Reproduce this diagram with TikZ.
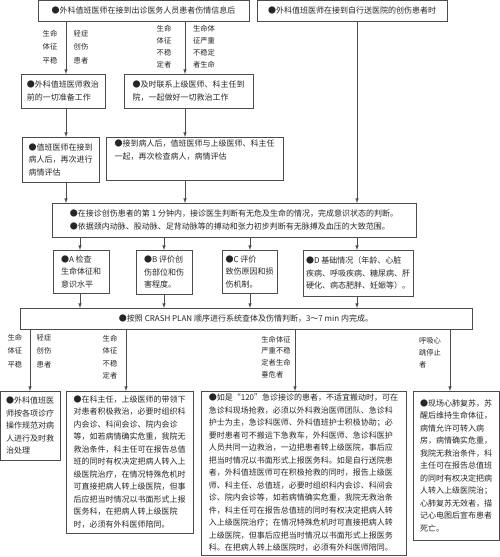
\documentclass[tikz,border=0pt]{standalone}
\usepackage{fontspec}
\setmainfont{Noto Sans CJK SC}
\begin{document}
\begin{tikzpicture}[x=1pt, y=-1pt, >=latex,
	box/.style={draw=black!70, line width=0.6pt, anchor=north west, align=left, inner sep=3pt, outer sep=0pt, text=black!85, font=\fontsize{8}{12.5}\selectfont},
	lab/.style={align=left, inner sep=0pt, text=black!85, font=\fontsize{7.3}{12.5}\selectfont},
	link/.style={draw=black!70, line width=0.6pt, ->}]
	\useasboundingbox (0,0) rectangle (500,557);
	\coordinate (colL) at (66,0);
	\coordinate (colR) at (185,0);
	\coordinate (colA) at (80,0);
	\coordinate (colB) at (164,0);
	\coordinate (colC) at (250,0);
	\coordinate (colD) at (357,0);
	\coordinate (colS) at (30,0);
	\coordinate (colU) at (126,0);
	\coordinate (colX) at (295,0);
	\coordinate (colH) at (450,0);

	\node[box, align=center, minimum width=211, minimum height=21] (top1) at (38,0) {●外科值班医师在接到出诊医务人员患者伤情信息后};
	\node[box, align=center, minimum width=190, minimum height=21] (top2) at (257,0) {●外科值班医师在接到自行送医院的创伤患者时};
	\node[box, minimum width=84, minimum height=34] (prep) at (21,74) {●外科值班医师救治\\前的一切准备工作};
	\node[box, minimum width=129, minimum height=34] (call) at (124,74) {●及时联系上级医师、科主任到\\院，一起做好一切救治工作};
	\node[box, minimum width=77, minimum height=45] (eval1) at (22,137) {●值班医师在接到\\病人后，再次进行\\病情评估};
	\node[box, minimum width=177, text depth=18pt] (eval2) at (106,137) {●接到病人后，值班医师与上级医师、科主任\\一起，再次检查病人，病情评估};
	\node[box, minimum width=364, minimum height=34] (first) at (52,203) {●在接诊创伤患者的第 1 分钟内，接诊医生判断有无危及生命的情况，完成意识状态的判断。\\●依据颈内动脉、股动脉、足背动脉等的搏动和张力初步判断有无脉搏及血压的大致范围。};
	\node[box, minimum width=56, minimum height=43] (chkA) at (53,250) {●A 检查\\生命体征和\\意识水平};
	\node[box, minimum width=56, minimum height=44] (chkB) at (136,250) {●B 评价创\\伤部位和伤\\害程度。};
	\node[box, minimum width=55, minimum height=43] (chkC) at (222,250) {●C 评价\\致伤原因和损\\伤机制。};
	\node[box, minimum width=110, minimum height=46] (chkD) at (303,250) {●D 基础情况（年龄、心脏\\疾病、呼吸疾病、糖尿病、肝\\硬化、病态肥胖、妊娠等）。};
	\node[box, align=center, minimum width=452, minimum height=21] (crash) at (20,308) {●按照 CRASH PLAN 顺序进行系统查体及伤情判断，3～7 min 内完成。};
	\node[box, minimum width=60, minimum height=69] (stable) at (0,391) {●外科值班医\\师按各项诊疗\\操作规范对病\\人进行及时救\\治处理};
	\node[box, minimum width=127, minimum height=142] (unstable) at (66,391) {●在科主任，上级医师的带领下\\对患者积极救治，必要时组织科\\内会诊、科间会诊、院内会诊\\等，如若病情确实危重，我院无\\救治条件，科主任可在报告总值\\班的同时有权决定把病人转入上\\级医院治疗，在情况特殊危机时\\可直接把病人转上级医院，但事\\后应把当时情况以书面形式上报\\医务科，在把病人转上级医院\\时，必须有外科医师陪同。};
	\node[box, line width=1pt, minimum width=205, minimum height=164] (critical) at (201,391) {●如是“120”急诊接诊的患者，不适宜搬动时，可在\\急诊科现场抢救，必须以外科救治医师团队、急诊科\\护士为主，急诊科医师、外科值班护士积极协助；必\\要时患者可不搬运下急救车，外科医师、急诊科医护\\人员共同一边救治，一边把患者转上级医院，事后应\\把当时情况以书面形式上报医务科。如是自行送院患\\者，外科值班医师可在积极抢救的同时，报告上级医\\师、科主任、总值班，必要时组织科内会诊、科间会\\诊、院内会诊等，如若病情确实危重，我院无救治条\\件，科主任可在报告总值班的同时有权决定把病人转\\入上级医院治疗；在情况特殊危机时可直接把病人转\\上级医院，但事后应把当时情况以书面形式上报医务\\科。在把病人转上级医院时，必须有外科医师陪同。};
	\node[box, minimum width=86, minimum height=149] (arrest) at (413,391) {●现场心肺复苏，苏\\醒后维持生命体征，\\病情允许可转入病\\房，病情确实危重，\\我院无救治条件，科\\主任可在报告总值班\\的同时有权决定把病\\人转入上级医院治；\\心肺复苏无效者，描\\记心电图后宣布患者\\死亡。};

	\node[lab, font=\fontsize{7.3}{13.5}\selectfont] (lab1) at (50,47) {生命\\体征\\平稳};
	\node[lab, font=\fontsize{7.3}{13.5}\selectfont] (lab2) at (81,47) {轻症\\创伤\\患者};
	\node[lab, font=\fontsize{7.3}{12}\selectfont] (lab3) at (164,47) {生命\\体征\\不稳\\定者};
	\node[lab, font=\fontsize{7.3}{12}\selectfont] (lab4) at (204,47) {生命体\\征严重\\不稳定\\者生命};
	\node[lab, font=\fontsize{7.3}{13.5}\selectfont] (lab5) at (15,351) {生命\\体征\\平稳};
	\node[lab, font=\fontsize{7.3}{13.5}\selectfont] (lab6) at (44,351) {轻症\\创伤\\患者};
	\node[lab] (lab7) at (110,357) {生命\\体征\\不稳\\定者};
	\node[lab, font=\fontsize{7.3}{11.8}\selectfont] (lab8) at (276,357) {生命体征\\严重不稳\\定者生命\\垂危者};
	\node[lab, font=\fontsize{7.3}{12}\selectfont] (lab9) at (430,353) {呼吸心\\跳停止\\者};

	\draw[link] (top1.south -| colL) -- (prep.north -| colL);
	\draw[link] (top1.south -| colR) -- (call.north -| colR);
	\draw[link] (prep.south -| colL) -- (eval1.north -| colL);
	\draw[link] (call.south -| colR) -- (eval2.north -| colR);
	\draw[link] (eval1.south -| colL) -- (first.north -| colL);
	\draw[link] (eval2.south -| colR) -- (first.north -| colR);
	\draw[link] (top2.south -| colD) -- (first.north -| colD);
	\draw[link] (first.south -| colA) -- (chkA.north -| colA);
	\draw[link] (first.south -| colB) -- (chkB.north -| colB);
	\draw[link] (first.south -| colC) -- (chkC.north -| colC);
	\draw[link] (first.south -| colD) -- (chkD.north -| colD);
	\draw[link] (chkA.south -| colA) -- (crash.north -| colA);
	\draw[link] (chkB.south -| colB) -- (crash.north -| colB);
	\draw[link] (chkC.south -| colC) -- (crash.north -| colC);
	\draw[link] (chkD.south -| colD) -- (crash.north -| colD);
	\draw[link] (crash.south -| colS) -- (stable.north -| colS);
	\draw[link] (crash.south -| colU) -- (unstable.north -| colU);
	\draw[link] (crash.south -| colX) -- (critical.north -| colX);
	\draw[link] (crash.south -| colH) -- (arrest.north -| colH);
\end{tikzpicture}
\end{document}
